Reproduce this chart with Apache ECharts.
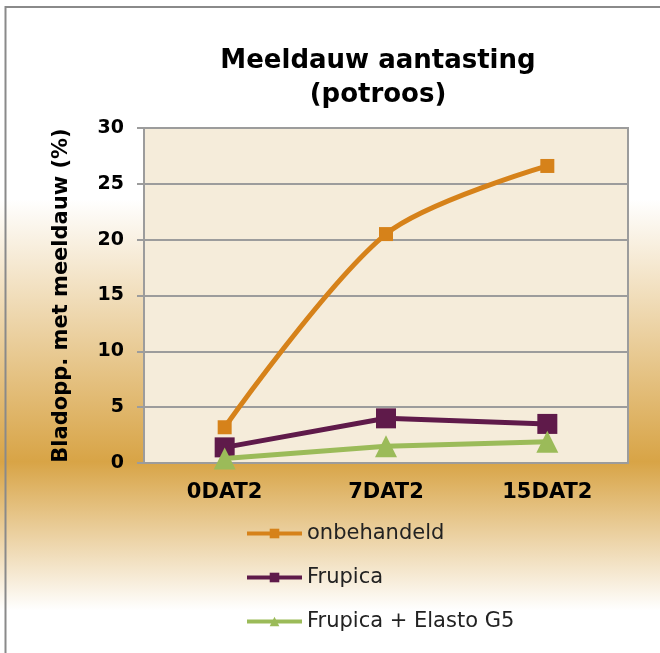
<!DOCTYPE html>
<html lang="nl">
    <head>
        <meta charset="UTF-8" />
        <script type="text/javascript" src="https://cdn.jsdelivr.net/npm/echarts@6/dist/echarts.min.js"></script>
        <title>Meeldauw aantasting</title>
        <style type="text/css">
            html, body { margin: 0; padding: 0; }
            #chart { width: 660px; height: 653px; }
        </style>
    </head>
    <body>
        <div id="chart"></div>
        <script type="text/javascript">
            const categories = ["0DAT2", "7DAT2", "15DAT2"];
            const onbehandeld = [3.2, 20.5, 26.6];
            const frupica = [1.4, 4.0, 3.5];
            const frupicaElasto = [0.4, 1.5, 1.9];

            const font = "DejaVu Sans";
            let chart = echarts.init(document.getElementById("chart"));

            let option = {
                backgroundColor: {
                    type: "linear", x: 0, y: 0, x2: 0, y2: 1,
                    colorStops: [
                        { offset: 0, color: "#ffffff" },
                        { offset: 0.305, color: "#ffffff" },
                        { offset: 0.707, color: "#d8a446" },
                        { offset: 0.935, color: "#ffffff" },
                        { offset: 1, color: "#ffffff" },
                    ],
                },
                graphic: [
                    {
                        type: "rect",
                        shape: { x: 5.5, y: 7, width: 700, height: 700 },
                        style: { fill: "none", stroke: "#8a8a8a", lineWidth: 2 },
                        silent: true,
                    },
                ],
                title: {
                    text: "Meeldauw aantasting\n(potroos)",
                    left: 373,
                    top: 39,
                    textAlign: "center",
                    textStyle: {
                        fontFamily: font,
                        fontWeight: "bold",
                        fontSize: 26,
                        lineHeight: 34,
                        color: "#000",
                    },
                },
                grid: {
                    left: 144,
                    right: 32,
                    top: 128,
                    bottom: 190,
                    show: true,
                    backgroundColor: "#f5ecda",
                    borderColor: "#9c9c9c",
                    borderWidth: 2,
                },
                legend: {
                    orient: "vertical",
                    left: 245,
                    top: 523,
                    height: 140,
                    padding: 0,
                    itemWidth: 55,
                    itemHeight: 12,
                    itemGap: 23,
                    lineStyle: { width: 4 },
                    textStyle: { fontFamily: font, fontSize: 21, color: "#222" },
                    data: ["onbehandeld", "Frupica", "Frupica + Elasto G5"],
                },
                xAxis: {
                    type: "category",
                    data: categories,
                    boundaryGap: true,
                    axisLine: { lineStyle: { color: "#9c9c9c", width: 2 } },
                    axisTick: { length: 7, lineStyle: { color: "#9c9c9c", width: 2 } },
                    axisLabel: {
                        margin: 19,
                        fontFamily: font,
                        fontWeight: "bold",
                        fontSize: 21,
                        color: "#000",
                    },
                },
                yAxis: {
                    type: "value",
                    min: 0,
                    max: 30,
                    interval: 5,
                    name: "Bladopp. met meeldauw (%)",
                    nameLocation: "middle",
                    nameRotate: 90,
                    nameGap: 72,
                    nameTextStyle: {
                        fontFamily: font,
                        fontWeight: "bold",
                        fontSize: 21,
                        color: "#000",
                    },
                    axisLine: { show: true, lineStyle: { color: "#9c9c9c", width: 2 } },
                    axisTick: { show: true, length: 7, lineStyle: { color: "#9c9c9c", width: 2 } },
                    splitLine: { lineStyle: { color: "#9c9c9c", width: 2 } },
                    axisLabel: {
                        margin: 20,
                        fontFamily: font,
                        fontWeight: "bold",
                        fontSize: 19,
                        color: "#000",
                    },
                },
                series: [
                    {
                        name: "onbehandeld",
                        type: "line",
                        smooth: 0.3,
                        symbol: "rect",
                        symbolSize: 14,
                        data: onbehandeld,
                        itemStyle: { color: "#d6821a" },
                        lineStyle: { width: 5, color: "#d6821a" },
                        z: 2,
                    },
                    {
                        name: "Frupica",
                        type: "line",
                        symbol: "rect",
                        symbolSize: 20,
                        data: frupica,
                        itemStyle: { color: "#5f1a4a" },
                        lineStyle: { width: 5, color: "#5f1a4a" },
                        z: 3,
                    },
                    {
                        name: "Frupica + Elasto G5",
                        type: "line",
                        symbol: "triangle",
                        symbolSize: 22,
                        data: frupicaElasto,
                        itemStyle: { color: "#9bbb59" },
                        lineStyle: { width: 5, color: "#9bbb59" },
                        z: 4,
                    },
                ],
            };
            chart.setOption(option);
        </script>
    </body>
</html>
